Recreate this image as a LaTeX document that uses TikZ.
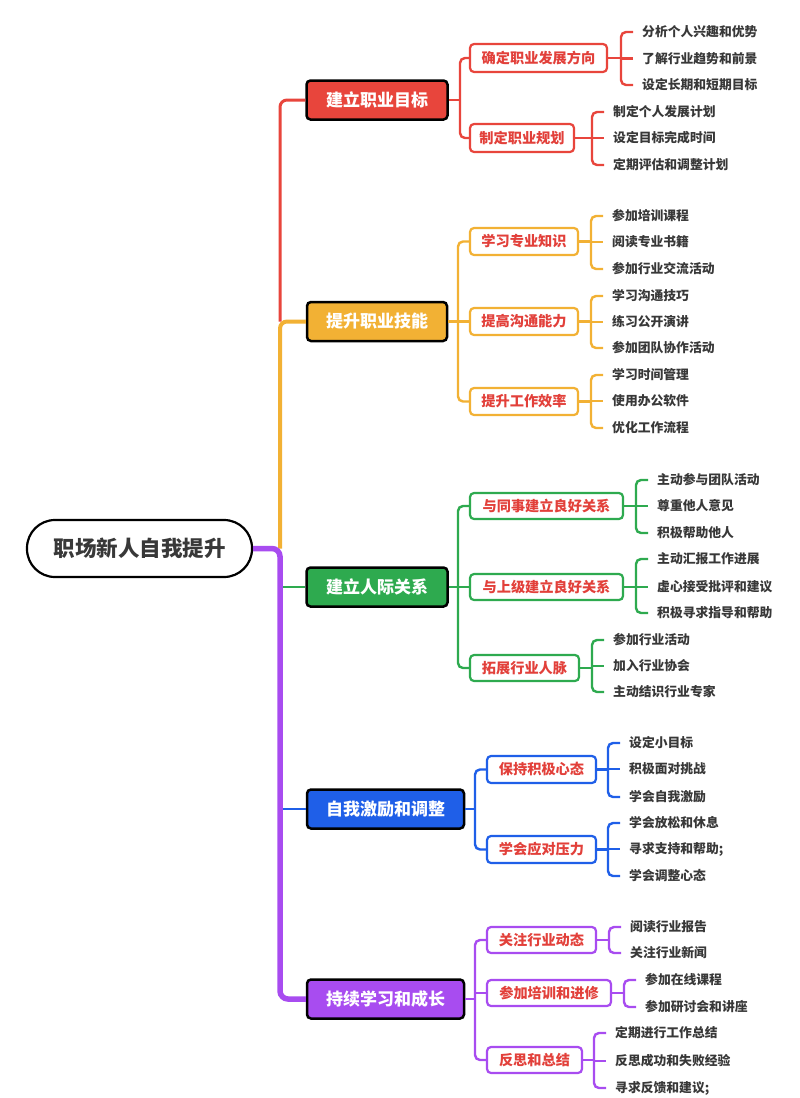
\documentclass[tikz,border=0pt]{standalone}
\usepackage{fontspec}
\newfontfamily\cjk{Noto Sans CJK SC}
\usetikzlibrary{calc}
\definecolor{cr}{HTML}{E8453C}
\definecolor{co}{HTML}{F2B134}
\definecolor{cg}{HTML}{2EAA4F}
\definecolor{cb}{HTML}{1F5FE8}
\definecolor{cp}{HTML}{A84CF0}
\definecolor{ctxt}{HTML}{E2403A}
\definecolor{leaftxt}{HTML}{383838}
\tikzset{
  rootbox/.style={draw=black, line width=2.2, rounded corners=28, fill=white, text=leaftxt,
    font=\cjk\bfseries\fontsize{21.5}{22}\selectfont, minimum width=225, minimum height=57, inner sep=0},
  lone/.style={draw=black, line width=2.5, rounded corners=4, fill=#1, text=white,
    font=\cjk\bfseries\fontsize{17}{17}\selectfont, minimum height=39, inner sep=0},
  ltwo/.style={draw=#1, line width=2.2, rounded corners=4, fill=white, text=ctxt,
    font=\cjk\bfseries\fontsize{14.2}{14}\selectfont, minimum height=27, inner sep=0},
  leaf/.style={anchor=west, inner sep=0, text=leaftxt, font=\cjk\bfseries\fontsize{12.8}{14}\selectfont},
  cl/.style={draw=#1, line width=2.4, rounded corners=5},
}
\begin{document}
\begin{tikzpicture}[x=1pt,y=-1pt]
\useasboundingbox[fill=white] (0,0) rectangle (800,1098);

% ---------- nodes ----------
\node[rootbox] (root) at (139.5,548.5) {职场新人自我提升};

\node[lone=cr, minimum width=141] (A) at (377,100) {建立职业目标};
\node[lone=co, minimum width=140] (B) at (377,321.5) {提升职业技能};
\node[lone=cg, minimum width=141] (C) at (377,587) {建立人际关系};
\node[lone=cb, minimum width=157] (D) at (385.5,809) {自我激励和调整};
\node[lone=cp, minimum width=157] (E) at (385.5,999) {持续学习和成长};

% level 2
\node[ltwo=cr, minimum width=137, minimum height=28] (a1) at (538.5,58) {确定职业发展方向};
\node[ltwo=cr, minimum width=104, minimum height=28] (a2) at (522,138) {制定职业规划};
\node[ltwo=co, minimum width=108] (b1) at (524,241.5) {学习专业知识};
\node[ltwo=co, minimum width=108] (b2) at (524,321.5) {提高沟通能力};
\node[ltwo=co, minimum width=108] (b3) at (524,401.5) {提升工作效率};
\node[ltwo=cg, minimum width=153, minimum height=26] (c1) at (546.5,506) {与同事建立良好关系};
\node[ltwo=cg, minimum width=153, minimum height=26] (c2) at (546.5,587) {与上级建立良好关系};
\node[ltwo=cg, minimum width=109, minimum height=26] (c3) at (524.5,668) {拓展行业人脉};
\node[ltwo=cb, minimum width=109] (d1) at (541.5,769.5) {保持积极心态};
\node[ltwo=cb, minimum width=109] (d2) at (541.5,849.5) {学会应对压力};
\node[ltwo=cp, minimum width=109, minimum height=26] (e1) at (541.5,940) {关注行业动态};
\node[ltwo=cp, minimum width=124, minimum height=26] (e2) at (549,993) {参加培训和进修};
\node[ltwo=cp, minimum width=95, minimum height=26] (e3) at (534.5,1060) {反思和总结};

% leaves
\node[leaf] (a11) at (642,32) {分析个人兴趣和优势};
\node[leaf] (a12) at (642,58.5) {了解行业趋势和前景};
\node[leaf] (a13) at (642,85) {设定长期和短期目标};
\node[leaf] (a21) at (613,112) {制定个人发展计划};
\node[leaf] (a22) at (613,138) {设定目标完成时间};
\node[leaf] (a23) at (613,165) {定期评估和调整计划};

\node[leaf] (b11) at (612,216) {参加培训课程};
\node[leaf] (b12) at (612,242) {阅读专业书籍};
\node[leaf] (b13) at (612,269) {参加行业交流活动};
\node[leaf] (b21) at (612,296) {学习沟通技巧};
\node[leaf] (b22) at (612,322) {练习公开演讲};
\node[leaf] (b23) at (612,348) {参加团队协作活动};
\node[leaf] (b31) at (612,375) {学习时间管理};
\node[leaf] (b32) at (612,401) {使用办公软件};
\node[leaf] (b33) at (612,428) {优化工作流程};

\node[leaf] (c11) at (657,480) {主动参与团队活动};
\node[leaf] (c12) at (657,506) {尊重他人意见};
\node[leaf] (c13) at (657,533) {积极帮助他人};
\node[leaf] (c21) at (657,559) {主动汇报工作进展};
\node[leaf] (c22) at (657,587) {虚心接受批评和建议};
\node[leaf] (c23) at (657,613) {积极寻求指导和帮助};
\node[leaf] (c31) at (613,640) {参加行业活动};
\node[leaf] (c32) at (613,666) {加入行业协会};
\node[leaf] (c33) at (613,692) {主动结识行业专家};

\node[leaf] (d11) at (629,743) {设定小目标};
\node[leaf] (d12) at (629,769) {积极面对挑战};
\node[leaf] (d13) at (629,797) {学会自我激励};
\node[leaf] (d21) at (629,823) {学会放松和休息};
\node[leaf] (d22) at (629,849) {寻求支持和帮助;};
\node[leaf] (d23) at (629,876) {学会调整心态};

\node[leaf] (e11) at (630,927) {阅读行业报告};
\node[leaf] (e12) at (630,953) {关注行业新闻};
\node[leaf] (e21) at (645,980) {参加在线课程};
\node[leaf] (e22) at (645,1007) {参加研讨会和讲座};
\node[leaf] (e31) at (615,1033) {定期进行工作总结};
\node[leaf] (e32) at (615,1061) {反思成功和失败经验};
\node[leaf] (e33) at (615,1088) {寻求反馈和建议;};

% ---------- trunk ----------
\coordinate (T) at (280,548.5);
\draw[cg, line width=2.6] (T |- C.west) -- (C.west);
\draw[cb, line width=2.6] (T |- D.west) -- (D.west);
\draw[cr, line width=3, rounded corners=7] (T |- B.west) |- (A.west);
\draw[co, line width=4, rounded corners=7] (T) |- (B.west);
\draw[cp, line width=5.5, rounded corners=8] (root.east) -- (T) |- (E.west);

% ---------- level 1 -> level 2 ----------
\coordinate (sA) at (460,100);
\draw[cl=cr] (A.east) -- (sA);
\draw[cl=cr] (a1.west) -| (sA) |- (a2.west);

\coordinate (sB) at (458,321.5);
\draw[cl=co] (B.east) -- (sB);
\draw[cl=co] (b1.west) -| (sB) |- (b3.west);
\draw[cl=co] (sB |- b2.west) -- (b2.west);

\coordinate (sC) at (458,587);
\draw[cl=cg] (C.east) -- (sC);
\draw[cl=cg] (c1.west) -| (sC) |- (c3.west);
\draw[cl=cg] (sC |- c2.west) -- (c2.west);

\coordinate (sD) at (475,809);
\draw[cl=cb] (D.east) -- (sD);
\draw[cl=cb] (d1.west) -| (sD) |- (d2.west);

\coordinate (sE) at (475,999);
\draw[cl=cp] (E.east) -- (sE);
\draw[cl=cp] (e1.west) -| (sE) |- (e3.west);
\draw[cl=cp] (sE |- e2.west) -- (e2.west);

% ---------- level 2 -> leaves ----------
% red
\coordinate (ba1) at (621,58);
\draw[cl=cr] (a1.east) -- (ba1);
\draw[cl=cr] ([xshift=-9]a11.west) -| (ba1) |- ([xshift=-9]a13.west);
\draw[cl=cr] (ba1 |- a12.west) -- ([xshift=-9]a12.west);
\coordinate (ba2) at (592,138);
\draw[cl=cr] (a2.east) -- (ba2);
\draw[cl=cr] ([xshift=-9]a21.west) -| (ba2) |- ([xshift=-9]a23.west);
\draw[cl=cr] (ba2 |- a22.west) -- ([xshift=-9]a22.west);
% orange
\coordinate (bb1) at (591,241.5);
\draw[cl=co] (b1.east) -- (bb1);
\draw[cl=co] ([xshift=-9]b11.west) -| (bb1) |- ([xshift=-9]b13.west);
\draw[cl=co] (bb1 |- b12.west) -- ([xshift=-9]b12.west);
\coordinate (bb2) at (591,321.5);
\draw[cl=co] (b2.east) -- (bb2);
\draw[cl=co] ([xshift=-9]b21.west) -| (bb2) |- ([xshift=-9]b23.west);
\draw[cl=co] (bb2 |- b22.west) -- ([xshift=-9]b22.west);
\coordinate (bb3) at (591,401.5);
\draw[cl=co] (b3.east) -- (bb3);
\draw[cl=co] ([xshift=-9]b31.west) -| (bb3) |- ([xshift=-9]b33.west);
\draw[cl=co] (bb3 |- b32.west) -- ([xshift=-9]b32.west);
% green
\coordinate (bc1) at (636,506);
\draw[cl=cg] (c1.east) -- (bc1);
\draw[cl=cg] ([xshift=-9]c11.west) -| (bc1) |- ([xshift=-9]c13.west);
\draw[cl=cg] (bc1 |- c12.west) -- ([xshift=-9]c12.west);
\coordinate (bc2) at (636,587);
\draw[cl=cg] (c2.east) -- (bc2);
\draw[cl=cg] ([xshift=-9]c21.west) -| (bc2) |- ([xshift=-9]c23.west);
\draw[cl=cg] (bc2 |- c22.west) -- ([xshift=-9]c22.west);
\coordinate (bc3) at (592,668);
\draw[cl=cg] (c3.east) -- (bc3);
\draw[cl=cg] ([xshift=-9]c31.west) -| (bc3) |- ([xshift=-9]c33.west);
\draw[cl=cg] (bc3 |- c32.west) -- ([xshift=-9]c32.west);
% blue
\coordinate (bd1) at (608,769.5);
\draw[cl=cb] (d1.east) -- (bd1);
\draw[cl=cb] ([xshift=-9]d11.west) -| (bd1) |- ([xshift=-9]d13.west);
\draw[cl=cb] (bd1 |- d12.west) -- ([xshift=-9]d12.west);
\coordinate (bd2) at (608,849.5);
\draw[cl=cb] (d2.east) -- (bd2);
\draw[cl=cb] ([xshift=-9]d21.west) -| (bd2) |- ([xshift=-9]d23.west);
\draw[cl=cb] (bd2 |- d22.west) -- ([xshift=-9]d22.west);
% purple
\coordinate (be1) at (609,940);
\draw[cl=cp] (e1.east) -- (be1);
\draw[cl=cp] ([xshift=-9]e11.west) -| (be1) |- ([xshift=-9]e12.west);
\coordinate (be2) at (624,993);
\draw[cl=cp] (e2.east) -- (be2);
\draw[cl=cp] ([xshift=-9]e21.west) -| (be2) |- ([xshift=-9]e22.west);
\coordinate (be3) at (594,1060);
\draw[cl=cp] (e3.east) -- (be3);
\draw[cl=cp] ([xshift=-9]e31.west) -| (be3) |- ([xshift=-9]e33.west);
\draw[cl=cp] (be3 |- e32.west) -- ([xshift=-9]e32.west);
\end{tikzpicture}
\end{document}
